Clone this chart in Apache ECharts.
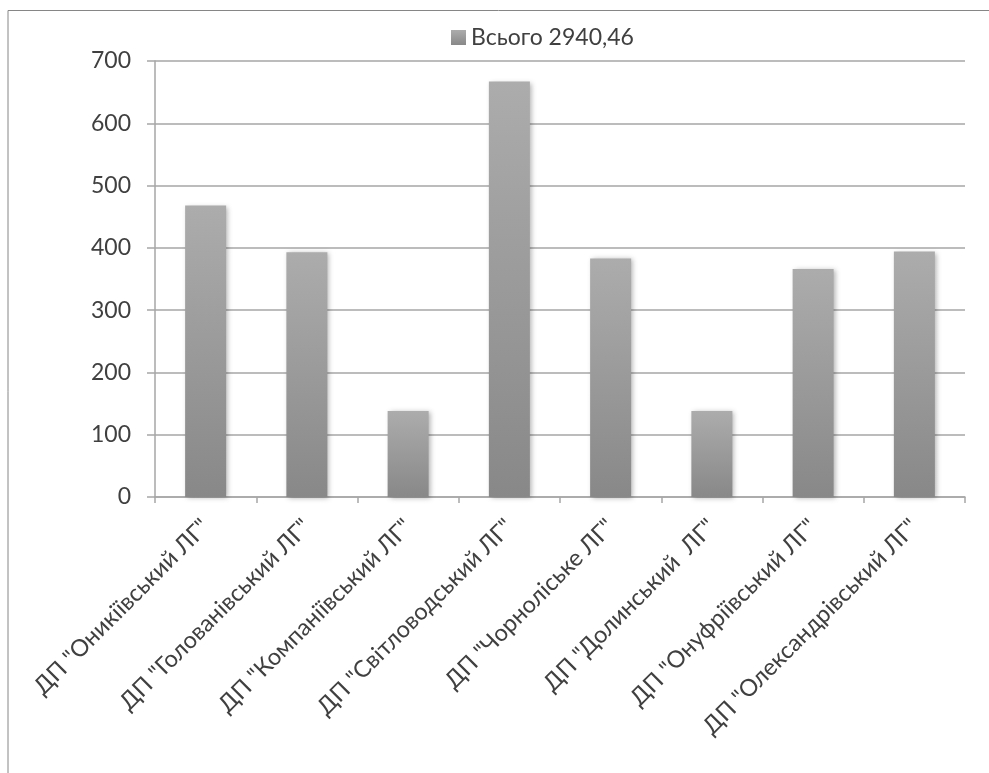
<!DOCTYPE html>
<html><head><meta charset="utf-8">
<script src="https://cdn.jsdelivr.net/npm/echarts@6/dist/echarts.min.js"></script>
<style>html,body{margin:0;padding:0;background:#fff}#c{width:989px;height:773px}</style>
</head><body><div id="c"></div>
<script>
const categories = ['ДП "Оникіївський ЛГ"','ДП "Голованівський ЛГ"','ДП "Компаніївський ЛГ"','ДП "Світловодський ЛГ"','ДП "Чорноліське ЛГ"','ДП "Долинський  ЛГ"','ДП "Онуфріївський ЛГ"','ДП "Олександрівський ЛГ"'];
const seriesName = 'Всього 2940,46';
const values = [468, 393, 138, 667, 383, 138, 366, 394];
const yTicks = [0, 100, 200, 300, 400, 500, 600, 700];

const font = 'Lato, "Open Sans", sans-serif';
const chart = echarts.init(document.getElementById('c'), null, {renderer:'canvas'});
chart.setOption({
  animation:false,
  backgroundColor:'#fff',
  graphic:[{type:'polyline', shape:{points:[[8,773],[8,10.5],[989,10.5]]}, style:{stroke:'#868686', lineWidth:1, fill:null}}],
  legend:{top:21, left:446, itemWidth:15, itemHeight:15, itemGap:7,
    textStyle:{fontFamily:font, fontSize:23, color:'#404040'},
    data:[{name:seriesName, icon:'rect'}]},
  grid:{left:155, right:24, top:61, bottom:276, containLabel:false},
  xAxis:{type:'category', data:categories, boundaryGap:true,
    axisLine:{lineStyle:{color:'#a6a6a6', width:1.5}},
    axisTick:{show:true, length:6, lineStyle:{color:'#a6a6a6', width:1.5}},
    axisLabel:{rotate:45, interval:0, margin:26, fontFamily:font, fontSize:23.5, color:'#404040'}},
  yAxis:{type:'value', min:yTicks[0], max:yTicks[yTicks.length-1], interval:100,
    axisLine:{show:true, lineStyle:{color:'#a6a6a6', width:1.5}},
    axisTick:{show:true, length:8, lineStyle:{color:'#a6a6a6', width:1.5}},
    axisLabel:{margin:24, fontFamily:font, fontSize:23, color:'#404040'},
    splitLine:{lineStyle:{color:'#a6a6a6', width:1.5}}},
  series:[{name:seriesName, type:'bar', data:values, barWidth:41,
    itemStyle:{color:new echarts.graphic.LinearGradient(0,0,0,1,[{offset:0,color:'#acacac'},{offset:1,color:'#888888'}]),
      shadowBlur:5, shadowOffsetX:2, shadowOffsetY:1, shadowColor:'rgba(0,0,0,0.3)'}}]
});
</script></body></html>
